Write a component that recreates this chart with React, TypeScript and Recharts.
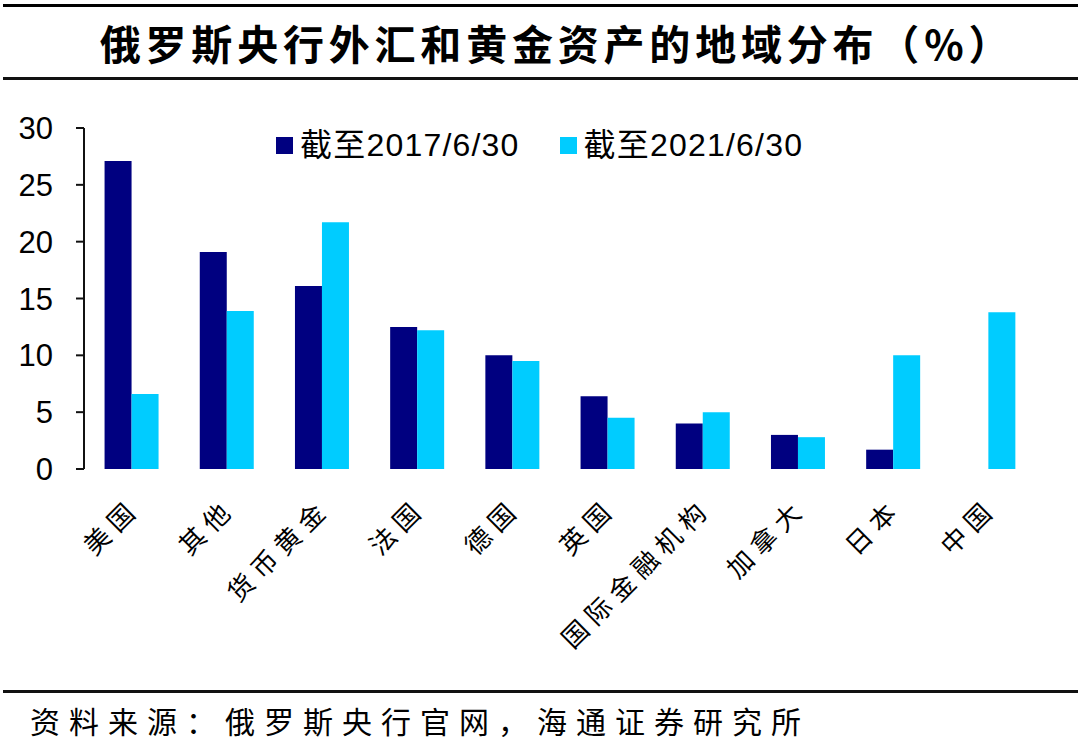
import React from 'react';
import { BarChart, Bar, XAxis, YAxis, Legend } from 'recharts';

const categories = ['美国', '其他', '货币黄金', '法国', '德国', '英国', '国际金融机构', '加拿大', '日本', '中国'];
const series2017 = [27.1, 19.1, 16.1, 12.5, 10.0, 6.4, 4.0, 3.0, 1.7, 0];
const series2021 = [6.6, 13.9, 21.7, 12.2, 9.5, 4.5, 5.0, 2.8, 10.0, 13.8];
const seriesNames = ['截至2017/6/30', '截至2021/6/30'];
const seriesColors = ['#000080', '#00CCFF'];
const yTicks = [0, 5, 10, 15, 20, 25, 30];
const boundaryTicks = [0, 1, 2, 3, 4, 5, 6, 7, 8, 9, 10];

const data = categories.map((name, i) => ({
  name,
  idx: i + 0.5,
  v2017: series2017[i],
  v2021: series2021[i],
}));

const CJK = '"Noto Sans CJK SC", sans-serif';
const LATIN = '"Liberation Sans", "Noto Sans CJK SC", sans-serif';

const CatTick = (props: any) => {
  const { x, y, payload } = props;
  return (
    <g transform={`translate(${x + 5},${y + 46})`}>
      <text
        x={7}
        y={0}
        transform="rotate(-45)"
        textAnchor="end"
        fontSize={26}
        letterSpacing={7}
        fontFamily={CJK}
        fill="#000"
      >
        {payload.value}
      </text>
    </g>
  );
};

const LegendContent = (props: any) => {
  const { payload } = props;
  return (
    <div style={{ display: 'flex', alignItems: 'center' }}>
      {(payload || []).map((entry: any, i: number) => (
        <div key={i} style={{ display: 'flex', alignItems: 'center', marginRight: i === 0 ? 40 : 0 }}>
          <span style={{ display: 'inline-block', width: 17, height: 17, background: entry.color, marginRight: 7 }} />
          <span style={{ fontSize: 32, fontFamily: LATIN, color: '#000', lineHeight: '36px', letterSpacing: 1.2, whiteSpace: 'nowrap' }}>{entry.value}</span>
        </div>
      ))}
    </div>
  );
};

export default function App() {
  return (
    <div style={{ position: 'absolute', left: 0, top: 0, width: 1080, height: 744, background: '#fff', overflow: 'hidden' }}>
      <div style={{ position: 'absolute', left: 3, top: 4, width: 1075, height: 3, background: '#000' }} />
      <div style={{ position: 'absolute', left: 3, top: 77, width: 1075, height: 3, background: '#111' }} />
      <div style={{ position: 'absolute', left: 3, top: 690, width: 1075, height: 3, background: '#111' }} />
      <div
        style={{
          position: 'absolute', left: 12, top: 14, width: 1090, textAlign: 'center',
          fontFamily: CJK, fontWeight: 700, fontSize: 41, letterSpacing: 4.8, color: '#000', lineHeight: '56px',
        }}
      >
        俄罗斯央行外汇和黄金资产的地域分布（%）
      </div>
      <div
        style={{
          position: 'absolute', left: 30, top: 699, fontFamily: CJK, fontSize: 30, letterSpacing: 9,
          color: '#000', lineHeight: '42px', whiteSpace: 'nowrap',
        }}
      >
        资料来源：俄罗斯央行官网，海通证券研究所
      </div>
      <BarChart
        width={1080}
        height={744}
        data={data}
        margin={{ top: 128, right: 44, bottom: 175, left: 24 }}
        barCategoryGap="21.6%"
        barGap={0}
        style={{ position: 'absolute', left: 0, top: 0 }}
      >
        <XAxis
          xAxisId="grid"
          dataKey="idx"
          type="number"
          domain={[0, 10]}
          ticks={boundaryTicks}
          allowDataOverflow
          height={0}
          tickSize={9}
          axisLine={{ stroke: '#111', strokeWidth: 2 }}
          tickLine={{ stroke: '#111', strokeWidth: 2 }}
          tick={() => <g />}
        />
        <XAxis
          xAxisId="cat"
          dataKey="name"
          height={100}
          axisLine={false}
          tickLine={false}
          tickSize={0}
          tickMargin={0}
          interval={0}
          tick={<CatTick />}
        />
        <YAxis
          domain={[0, 30]}
          ticks={yTicks}
          width={60}
          tickSize={8}
          tickMargin={23}
          axisLine={{ stroke: '#111', strokeWidth: 2 }}
          tickLine={{ stroke: '#111', strokeWidth: 2 }}
          tick={{ fontSize: 31, fontFamily: LATIN, fill: '#000' }}
          interval={0}
        />
        <Legend
          layout="vertical"
          align="center"
          verticalAlign="middle"
          content={<LegendContent />}
          wrapperStyle={{ position: 'absolute', left: 276, top: 127, width: 'auto', height: 'auto' }}
        />
        <Bar xAxisId="cat" dataKey="v2017" name={seriesNames[0]} fill={seriesColors[0]} isAnimationActive={false} />
        <Bar xAxisId="cat" dataKey="v2021" name={seriesNames[1]} fill={seriesColors[1]} isAnimationActive={false} />
      </BarChart>
    </div>
  );
}
